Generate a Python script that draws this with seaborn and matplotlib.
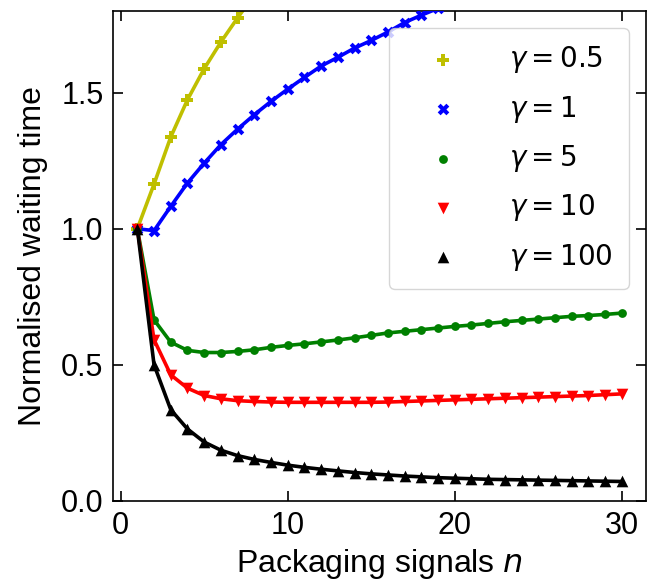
import numpy as np
import pandas as pd
import seaborn as sns
import matplotlib
matplotlib.use("Agg")
import matplotlib.pyplot as plt

sns.set_style("ticks")
plt.rcParams['font.family'] = ['Liberation Sans', 'DejaVu Sans']
plt.rcParams['mathtext.fontset'] = 'dejavusans'
for key in ['text.color', 'axes.labelcolor', 'xtick.color', 'ytick.color', 'axes.edgecolor']:
    plt.rcParams[key] = 'black'

# packaging signals
n_all = list(range(1, 31))

# normalised waiting time (curves leave the top for small gamma)
gamma_05 = [1.0, 1.164, 1.337, 1.474, 1.588, 1.686, 1.775, 1.86]
gamma_1 = [1.0, 0.993, 1.082, 1.168, 1.241, 1.309, 1.366, 1.419, 1.468, 1.513,
           1.556, 1.598, 1.630, 1.664, 1.692, 1.723, 1.758, 1.785, 1.81, 1.835]
gamma_5 = [1.0, 0.665, 0.583, 0.553, 0.545, 0.545, 0.549, 0.555, 0.564, 0.571,
           0.577, 0.584, 0.591, 0.599, 0.608, 0.617, 0.623, 0.629, 0.635, 0.641,
           0.646, 0.652, 0.658, 0.663, 0.668, 0.673, 0.678, 0.681, 0.685, 0.690]
gamma_10 = [1.0, 0.592, 0.463, 0.414, 0.387, 0.375, 0.368, 0.365, 0.363, 0.362,
            0.362, 0.362, 0.362, 0.362, 0.362, 0.363, 0.365, 0.367, 0.369, 0.371,
            0.373, 0.375, 0.377, 0.379, 0.381, 0.383, 0.385, 0.387, 0.390, 0.393]
gamma_100 = [1.0, 0.5, 0.335, 0.264, 0.216, 0.186, 0.166, 0.152, 0.141, 0.131,
             0.123, 0.116, 0.110, 0.104, 0.099, 0.095, 0.091, 0.088, 0.085, 0.083,
             0.081, 0.079, 0.078, 0.077, 0.076, 0.075, 0.074, 0.073, 0.072, 0.071]

labels = [r'$\gamma = 0.5$', r'$\gamma = 1$', r'$\gamma = 5$', r'$\gamma = 10$', r'$\gamma = 100$']
series = [gamma_05, gamma_1, gamma_5, gamma_10, gamma_100]
colors = ['#bfbf00', '#0000ff', '#008000', '#ff0000', '#000000']
markers = ['P', 'X', 'o', 'v', '^']
sizes = [70, 70, 40, 70, 70]

fig, ax = plt.subplots(figsize=(6.5, 5.83), dpi=100)
fig.subplots_adjust(left=0.174, right=0.994, top=0.981, bottom=0.141)

for i, (vals, lab, col, mk, sz) in enumerate(zip(series, labels, colors, markers, sizes)):
    df = pd.DataFrame({'n': n_all[:len(vals)], 'wait': vals})
    sns.lineplot(data=df, x='n', y='wait', color=col, lw=2.6, ax=ax, zorder=2 + i)
    sns.scatterplot(data=df, x='n', y='wait', color=col, marker=mk, s=sz,
                    linewidth=0, label=lab, ax=ax, zorder=2 + i)

ax.set_xlim(-0.45, 31.45)
ax.set_ylim(0, 1.8)
ax.set_xticks([0, 10, 20, 30])
ax.set_yticks([0.0, 0.5, 1.0, 1.5])
ax.tick_params(direction='in', top=True, right=True, length=7, width=1.2,
               labelsize=22, pad=7)
for sp in ax.spines.values():
    sp.set_linewidth(1.2)
ax.set_xlabel('Packaging signals $n$', fontsize=23, labelpad=5)
ax.set_ylabel('Normalised waiting time', fontsize=23, labelpad=9)
ax.legend(loc='upper right', bbox_to_anchor=(0.968, 0.965), borderaxespad=0,
          fontsize=20, borderpad=0.58, handlelength=2.7, handletextpad=1.05,
          labelspacing=0.66)

plt.savefig('out.png', dpi=100)
